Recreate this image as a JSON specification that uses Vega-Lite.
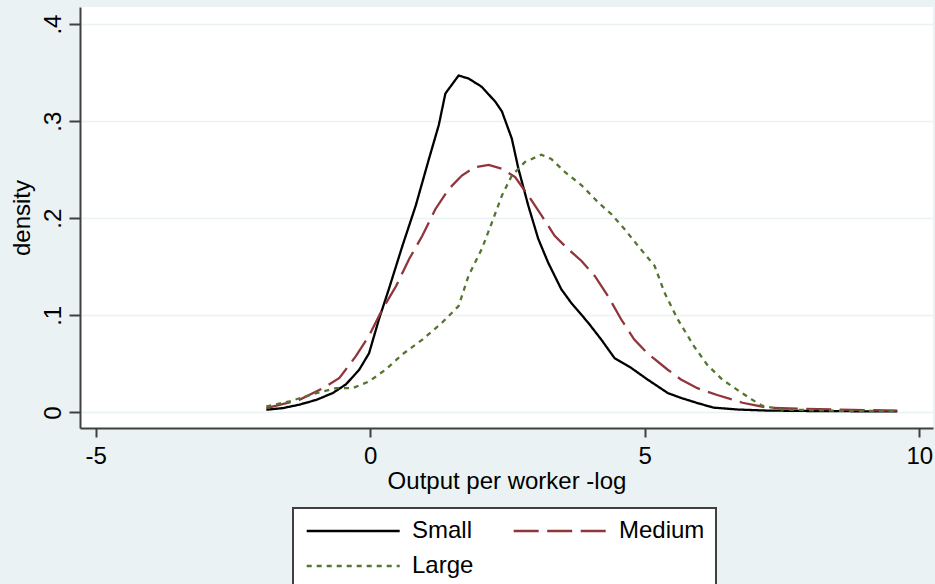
{
  "$schema": "https://vega.github.io/schema/vega-lite/v6.json",
  "autosize": {"type": "none"},
  "padding": {"left": 80, "top": 7, "right": 2, "bottom": 156},
  "width": 853,
  "height": 421,
  "background": "#EAF2F3",
  "view": {"fill": "white", "stroke": null},
  "config": {
    "font": "Liberation Sans",
    "axis": {
      "labelFont": "Liberation Sans",
      "titleFont": "Liberation Sans",
      "labelFontSize": 24,
      "titleFontSize": 24,
      "labelColor": "#000000",
      "titleColor": "#000000",
      "titleFontWeight": "normal",
      "domainColor": "#404040",
      "domainWidth": 2,
      "tickColor": "#404040",
      "tickWidth": 2
    }
  },
  "data": {
    "values": [
      {"size": "Small", "x": -1.89, "density": 0.0028},
      {"size": "Small", "x": -1.59, "density": 0.0045},
      {"size": "Small", "x": -1.29, "density": 0.008},
      {"size": "Small", "x": -0.98, "density": 0.013},
      {"size": "Small", "x": -0.68, "density": 0.020},
      {"size": "Small", "x": -0.44, "density": 0.029},
      {"size": "Small", "x": -0.20, "density": 0.044},
      {"size": "Small", "x": -0.02, "density": 0.061},
      {"size": "Small", "x": 0.16, "density": 0.096},
      {"size": "Small", "x": 0.34, "density": 0.127},
      {"size": "Small", "x": 0.59, "density": 0.172},
      {"size": "Small", "x": 0.83, "density": 0.213},
      {"size": "Small", "x": 1.07, "density": 0.261},
      {"size": "Small", "x": 1.25, "density": 0.296},
      {"size": "Small", "x": 1.37, "density": 0.3285},
      {"size": "Small", "x": 1.61, "density": 0.347},
      {"size": "Small", "x": 1.79, "density": 0.344},
      {"size": "Small", "x": 2.03, "density": 0.3355},
      {"size": "Small", "x": 2.28, "density": 0.320},
      {"size": "Small", "x": 2.40, "density": 0.310},
      {"size": "Small", "x": 2.58, "density": 0.282},
      {"size": "Small", "x": 2.70, "density": 0.251},
      {"size": "Small", "x": 2.88, "density": 0.213},
      {"size": "Small", "x": 3.06, "density": 0.179},
      {"size": "Small", "x": 3.24, "density": 0.1545},
      {"size": "Small", "x": 3.48, "density": 0.127},
      {"size": "Small", "x": 3.66, "density": 0.113},
      {"size": "Small", "x": 3.97, "density": 0.0925},
      {"size": "Small", "x": 4.21, "density": 0.075},
      {"size": "Small", "x": 4.45, "density": 0.056},
      {"size": "Small", "x": 4.75, "density": 0.046},
      {"size": "Small", "x": 5.05, "density": 0.034},
      {"size": "Small", "x": 5.42, "density": 0.020},
      {"size": "Small", "x": 5.66, "density": 0.015},
      {"size": "Small", "x": 5.96, "density": 0.0097},
      {"size": "Small", "x": 6.25, "density": 0.005},
      {"size": "Small", "x": 6.7, "density": 0.003},
      {"size": "Small", "x": 7.2, "density": 0.002},
      {"size": "Small", "x": 8.0, "density": 0.0015},
      {"size": "Small", "x": 9.0, "density": 0.0012},
      {"size": "Small", "x": 9.6, "density": 0.0012},

      {"size": "Medium", "x": -1.89, "density": 0.0045},
      {"size": "Medium", "x": -1.29, "density": 0.013},
      {"size": "Medium", "x": -0.86, "density": 0.025},
      {"size": "Medium", "x": -0.56, "density": 0.0355},
      {"size": "Medium", "x": -0.26, "density": 0.058},
      {"size": "Medium", "x": -0.02, "density": 0.079},
      {"size": "Medium", "x": 0.22, "density": 0.106},
      {"size": "Medium", "x": 0.47, "density": 0.130},
      {"size": "Medium", "x": 0.71, "density": 0.158},
      {"size": "Medium", "x": 0.95, "density": 0.182},
      {"size": "Medium", "x": 1.19, "density": 0.2096},
      {"size": "Medium", "x": 1.43, "density": 0.230},
      {"size": "Medium", "x": 1.67, "density": 0.244},
      {"size": "Medium", "x": 1.91, "density": 0.2527},
      {"size": "Medium", "x": 2.16, "density": 0.255},
      {"size": "Medium", "x": 2.40, "density": 0.251},
      {"size": "Medium", "x": 2.64, "density": 0.2424},
      {"size": "Medium", "x": 2.88, "density": 0.2234},
      {"size": "Medium", "x": 3.12, "density": 0.203},
      {"size": "Medium", "x": 3.36, "density": 0.182},
      {"size": "Medium", "x": 3.61, "density": 0.168},
      {"size": "Medium", "x": 3.85, "density": 0.156},
      {"size": "Medium", "x": 4.09, "density": 0.1406},
      {"size": "Medium", "x": 4.33, "density": 0.120},
      {"size": "Medium", "x": 4.57, "density": 0.096},
      {"size": "Medium", "x": 4.81, "density": 0.075},
      {"size": "Medium", "x": 5.05, "density": 0.061},
      {"size": "Medium", "x": 5.42, "density": 0.044},
      {"size": "Medium", "x": 5.66, "density": 0.034},
      {"size": "Medium", "x": 5.96, "density": 0.025},
      {"size": "Medium", "x": 6.32, "density": 0.018},
      {"size": "Medium", "x": 6.78, "density": 0.010},
      {"size": "Medium", "x": 7.23, "density": 0.005},
      {"size": "Medium", "x": 7.8, "density": 0.004},
      {"size": "Medium", "x": 8.5, "density": 0.003},
      {"size": "Medium", "x": 9.6, "density": 0.0018},

      {"size": "Large", "x": -1.89, "density": 0.0062},
      {"size": "Large", "x": -1.47, "density": 0.0114},
      {"size": "Large", "x": -0.98, "density": 0.020},
      {"size": "Large", "x": -0.62, "density": 0.025},
      {"size": "Large", "x": -0.32, "density": 0.025},
      {"size": "Large", "x": -0.02, "density": 0.032},
      {"size": "Large", "x": 0.28, "density": 0.044},
      {"size": "Large", "x": 0.59, "density": 0.060},
      {"size": "Large", "x": 0.95, "density": 0.075},
      {"size": "Large", "x": 1.31, "density": 0.0925},
      {"size": "Large", "x": 1.61, "density": 0.1096},
      {"size": "Large", "x": 1.79, "density": 0.1406},
      {"size": "Large", "x": 2.03, "density": 0.168},
      {"size": "Large", "x": 2.22, "density": 0.196},
      {"size": "Large", "x": 2.40, "density": 0.2234},
      {"size": "Large", "x": 2.58, "density": 0.244},
      {"size": "Large", "x": 2.82, "density": 0.258},
      {"size": "Large", "x": 3.12, "density": 0.2655},
      {"size": "Large", "x": 3.30, "density": 0.261},
      {"size": "Large", "x": 3.55, "density": 0.2475},
      {"size": "Large", "x": 3.85, "density": 0.234},
      {"size": "Large", "x": 4.15, "density": 0.2165},
      {"size": "Large", "x": 4.39, "density": 0.2044},
      {"size": "Large", "x": 4.63, "density": 0.189},
      {"size": "Large", "x": 4.93, "density": 0.168},
      {"size": "Large", "x": 5.18, "density": 0.151},
      {"size": "Large", "x": 5.36, "density": 0.1235},
      {"size": "Large", "x": 5.60, "density": 0.096},
      {"size": "Large", "x": 5.90, "density": 0.068},
      {"size": "Large", "x": 6.14, "density": 0.049},
      {"size": "Large", "x": 6.41, "density": 0.034},
      {"size": "Large", "x": 6.68, "density": 0.0235},
      {"size": "Large", "x": 6.96, "density": 0.013},
      {"size": "Large", "x": 7.14, "density": 0.007},
      {"size": "Large", "x": 7.5, "density": 0.003},
      {"size": "Large", "x": 8.5, "density": 0.0018},
      {"size": "Large", "x": 9.6, "density": 0.0015}
    ]
  },
  "mark": {"type": "line", "strokeWidth": 2.3, "clip": true},
  "encoding": {
    "x": {
      "field": "x",
      "type": "quantitative",
      "scale": {"domain": [-5.284, 10.25], "nice": false, "zero": false},
      "axis": {
        "values": [-5, 0, 5, 10],
        "labelExpr": "'' + datum.value",
        "title": "Output per worker -log",
        "grid": false,
        "tickSize": 9,
        "labelPadding": 7,
        "labelFlush": false,
        "titleBaseline": "alphabetic",
        "titleY": 60,
        "titleX": 426.5,
        "titleAlign": "center"
      }
    },
    "y": {
      "field": "density",
      "type": "quantitative",
      "scale": {"domain": [-0.016, 0.4176], "nice": false, "zero": false},
      "axis": {
        "values": [0, 0.1, 0.2, 0.3, 0.4],
        "labelExpr": "datum.value == 0 ? '0' : replace(format(datum.value, '.1f'), '0.', '.')",
        "title": "density",
        "grid": true,
        "gridColor": "#EAF2F3",
        "gridWidth": 1.5,
        "tickSize": 11,
        "labelPadding": 9,
        "labelAngle": 270,
        "labelAlign": "center",
        "labelBaseline": "alphabetic",
        "labelFlush": false,
        "titleAngle": 270,
        "titleAlign": "center",
        "titleBaseline": "alphabetic",
        "titleX": -51,
        "titleY": 210.5
      }
    },
    "color": {
      "field": "size",
      "type": "nominal",
      "sort": ["Small", "Medium", "Large"],
      "scale": {"domain": ["Small", "Medium", "Large"], "range": ["#000000", "#90353B", "#55752F"]},
      "legend": {
        "title": null,
        "orient": "none",
        "legendX": 213,
        "legendY": 501,
        "direction": "horizontal",
        "columns": 2,
        "padding": 11,
        "fillColor": "white",
        "strokeColor": "#404040",
        "symbolType": "M-1,0H9",
        "symbolSize": 346,
        "symbolStrokeWidth": 2.3,
        "labelOffset": 84,
        "labelFont": "Liberation Sans",
        "labelFontSize": 24,
        "labelColor": "#000000",
        "columnPadding": 35,
        "rowPadding": 11,
        "encode": {"legend": {"update": {"strokeWidth": {"value": 2}}}}
      }
    },
    "strokeDash": {
      "field": "size",
      "type": "nominal",
      "sort": ["Small", "Medium", "Large"],
      "scale": {"domain": ["Small", "Medium", "Large"], "range": [[1, 0], [25, 8.5], [5, 5]]},
      "legend": null
    }
  }
}
